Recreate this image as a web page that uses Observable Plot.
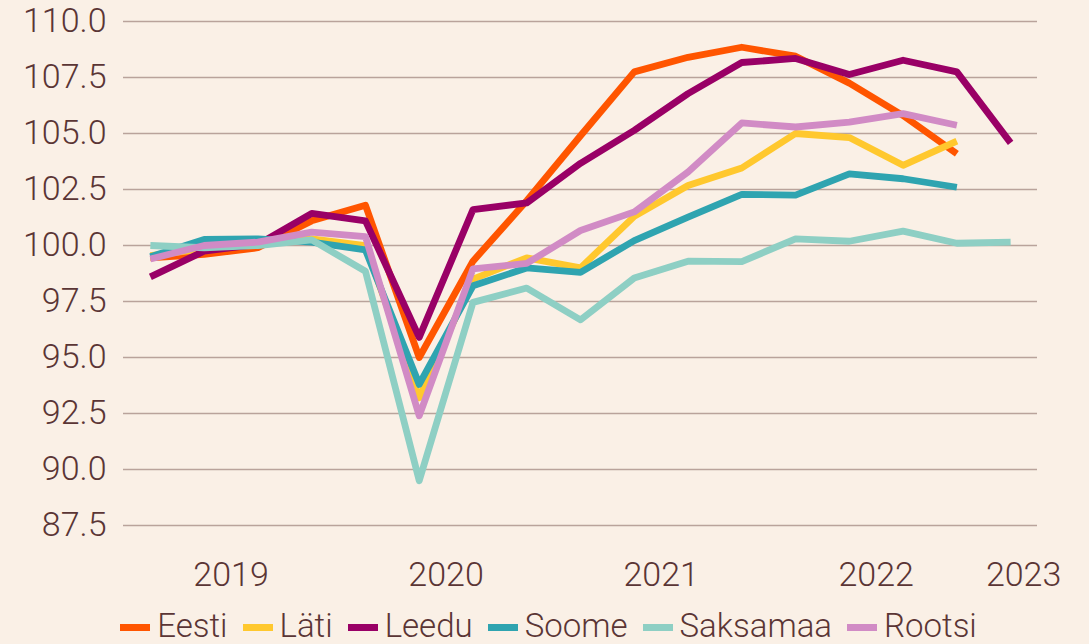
<!DOCTYPE html>
<html>
<head>
<meta charset="utf-8">
<script src="https://cdn.jsdelivr.net/npm/d3@7"></script>
<script src="https://cdn.jsdelivr.net/npm/@observablehq/plot@0.6"></script>
<style>
  html, body { margin: 0; padding: 0; background: #faf0e6; }
  #wrap { position: relative; width: 1089px; height: 644px; overflow: hidden; background: #faf0e6; font-family: Roboto, sans-serif; font-weight: 300; color: #5a3535; }
  #legend { position: absolute; left: 4px; top: 609px; width: 1089px; display: flex; justify-content: center; align-items: center; height: 33px; font-size: 33px; line-height: 33px; white-space: nowrap; }
  .item { display: flex; align-items: center; margin-right: 15px; }
  .item:last-child { margin-right: 0; }
  .sw { width: 30px; height: 7px; margin-right: 7px; margin-top: 3px; }
</style>
</head>
<body>
<div id="wrap"><div id="chart"></div><div id="legend"></div></div>
<script>
const quarters = ["2019Q1","2019Q2","2019Q3","2019Q4","2020Q1","2020Q2","2020Q3","2020Q4","2021Q1","2021Q2","2021Q3","2021Q4","2022Q1","2022Q2","2022Q3","2022Q4","2023Q1"];
const years = ["2019","2020","2021","2022","2023"];
const yTicks = [87.5, 90, 92.5, 95, 97.5, 100, 102.5, 105, 107.5, 110];

const seriesNames = ["Eesti","Läti","Leedu","Soome","Saksamaa","Rootsi"];
const seriesColors = ["#ff5500","#ffc82e","#990066","#2fa4b0","#8ecfc4","#d18bc5"];

const eesti    = [99.45, 99.6, 99.9, 101.1, 101.8, 95.0, 99.3, 102.0, 104.9, 107.75, 108.4, 108.85, 108.45, 107.25, 105.8, 104.1];
const lati     = [99.55, 99.85, 100.05, 100.3, 100.0, 93.2, 98.5, 99.45, 99.0, 101.3, 102.68, 103.46, 105.0, 104.82, 103.58, 104.66];
const leedu    = [98.6, 99.75, 100.05, 101.43, 101.1, 95.9, 101.6, 101.9, 103.67, 105.14, 106.78, 108.17, 108.35, 107.63, 108.27, 107.75, 104.58];
const soome    = [99.5, 100.27, 100.3, 100.15, 99.8, 93.8, 98.2, 99.0, 98.8, 100.22, 101.27, 102.28, 102.25, 103.2, 102.98, 102.6];
const saksamaa = [100.0, 99.9, 100.0, 100.25, 98.85, 89.5, 97.46, 98.1, 96.68, 98.55, 99.3, 99.28, 100.3, 100.19, 100.64, 100.1, 100.15];
const rootsi   = [99.4, 100.0, 100.15, 100.6, 100.4, 92.4, 98.96, 99.2, 100.67, 101.5, 103.28, 105.47, 105.29, 105.51, 105.89, 105.37];

const allSeries = [eesti, lati, leedu, soome, saksamaa, rootsi];
const rows = [];
allSeries.forEach((vals, s) => vals.forEach((v, i) => rows.push({series: seriesNames[s], q: i, value: v})));

// year label positions: center of that year's quarters (by index)
const yearPos = years.map(y => d3.mean(quarters.map((q, i) => q.startsWith(y) ? i : null).filter(i => i !== null)));
const fullYears = yearPos.slice(0, 4);
const partYears = yearPos.slice(4);

const textColor = "#5a3535";
const axisOpts = { tickSize: 0, fontSize: 34, label: null, fill: textColor };

const chart = Plot.plot({
  width: 1089,
  height: 600,
  marginLeft: 123,
  marginRight: 52,
  marginTop: 21,
  marginBottom: 75,
  style: { background: "#faf0e6", fontFamily: "Roboto, sans-serif", fontWeight: 300, color: textColor, overflow: "visible" },
  x: { domain: [-0.5, quarters.length - 0.5] },
  y: { domain: [87.5, 110] },
  color: { domain: seriesNames, range: seriesColors },
  marks: [
    Plot.gridY(yTicks, { stroke: "#b9a39b", strokeOpacity: 1, strokeWidth: 1.5 }),
    Plot.axisY(yTicks, { ...axisOpts, tickPadding: 17, tickFormat: d3.format(".1f") }),
    Plot.axisX(fullYears, { ...axisOpts, tickPadding: 36, tickFormat: (d, i) => years[i] }),
    Plot.axisX(partYears, { ...axisOpts, tickPadding: 36, dx: 13, tickFormat: (d, i) => years[4 + i] }),
    Plot.line(rows, { x: "q", y: "value", z: "series", stroke: "series", strokeWidth: 6.8, strokeLinejoin: "round", strokeLinecap: "butt" })
  ]
});
document.getElementById("chart").appendChild(chart);

const legend = document.getElementById("legend");
seriesNames.forEach((n, i) => {
  const it = document.createElement("div");
  it.className = "item";
  const sw = document.createElement("div");
  sw.className = "sw";
  sw.style.background = seriesColors[i];
  const t = document.createElement("span");
  t.textContent = n;
  it.appendChild(sw); it.appendChild(t);
  legend.appendChild(it);
});
</script>
</body>
</html>
